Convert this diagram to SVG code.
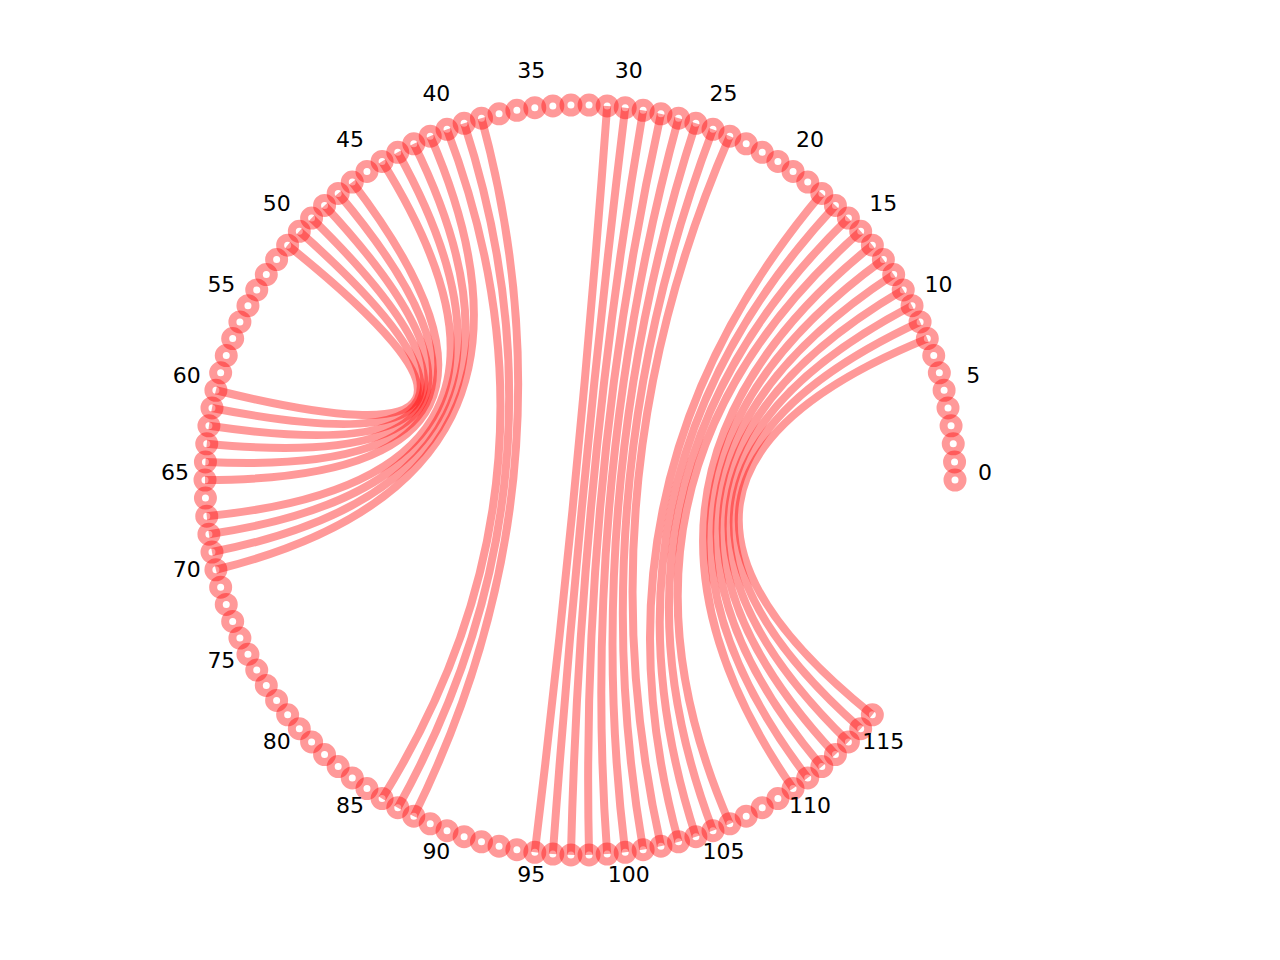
<svg xmlns="http://www.w3.org/2000/svg" width="1280" height="960" viewBox="0 0 1280 960">
<style>
.node circle{fill:none;stroke:#ff0000;stroke-opacity:0.4;stroke-width:8}
#edges path{fill:none;stroke:#ff0000;stroke-opacity:0.4;stroke-width:8}
.lbl{font-family:"DejaVu Sans",sans-serif;font-size:22px;text-anchor:middle;fill:#000}
</style>
<rect width="1280" height="960" fill="#fff"/>
<g id="edges">
<path d="M481.49 118.17Q580 480 413.80 816.16"/>
<path d="M464.12 123.35Q580 480 397.77 807.74"/>
<path d="M447.02 129.37Q580 480 382.11 798.53"/>
<path d="M430.23 136.20Q580 480 215.90 569.75"/>
<path d="M413.80 143.84Q580 480 211.99 552.05"/>
<path d="M397.77 152.26Q580 480 208.93 534.18"/>
<path d="M382.11 161.47Q580 480 206.75 516.19"/>
<path d="M352.27 182.07Q580 480 205 480"/>
<path d="M338.18 193.38Q580 480 205.44 461.88"/>
<path d="M324.57 205.44Q580 480 206.75 443.81"/>
<path d="M311.60 218.11Q580 480 208.93 425.82"/>
<path d="M299.31 231.33Q580 480 211.99 407.95"/>
<path d="M287.65 245.14Q580 480 215.90 390.25"/>
<path d="M607.17 105.99Q580 480 534.80 852.27"/>
<path d="M625.20 107.73Q580 480 552.83 854.01"/>
<path d="M643.14 110.35Q580 480 570.94 854.89"/>
<path d="M660.93 113.84Q580 480 589.06 854.89"/>
<path d="M678.51 118.17Q580 480 607.17 854.01"/>
<path d="M695.88 123.35Q580 480 625.20 852.27"/>
<path d="M712.98 129.37Q580 480 643.14 849.65"/>
<path d="M729.77 136.20Q580 480 660.93 846.16"/>
<path d="M821.82 193.38Q580 480 678.51 841.83"/>
<path d="M835.43 205.44Q580 480 695.88 836.65"/>
<path d="M848.40 218.11Q580 480 712.98 830.63"/>
<path d="M860.69 231.33Q580 480 729.77 823.80"/>
<path d="M872.35 245.14Q580 480 793.05 788.60"/>
<path d="M883.38 259.58Q580 480 807.73 777.93"/>
<path d="M893.70 274.52Q580 480 821.82 766.62"/>
<path d="M903.25 289.91Q580 480 835.43 754.56"/>
<path d="M912.05 305.73Q580 480 848.40 741.89"/>
<path d="M920.09 321.97Q580 480 860.69 728.67"/>
<path d="M927.32 338.58Q580 480 872.35 714.86"/>
</g>
<g id="nodes">
<g id="node-0" class="node"><circle cx="955" cy="480" r="7.5"/></g>
<g id="node-1" class="node"><circle cx="954.56" cy="461.88" r="7.5"/></g>
<g id="node-2" class="node"><circle cx="953.25" cy="443.81" r="7.5"/></g>
<g id="node-3" class="node"><circle cx="951.07" cy="425.82" r="7.5"/></g>
<g id="node-4" class="node"><circle cx="948.01" cy="407.95" r="7.5"/></g>
<g id="node-5" class="node"><circle cx="944.10" cy="390.25" r="7.5"/></g>
<g id="node-6" class="node"><circle cx="939.34" cy="372.77" r="7.5"/></g>
<g id="node-7" class="node"><circle cx="933.74" cy="355.53" r="7.5"/></g>
<g id="node-8" class="node"><circle cx="927.32" cy="338.58" r="7.5"/></g>
<g id="node-9" class="node"><circle cx="920.09" cy="321.97" r="7.5"/></g>
<g id="node-10" class="node"><circle cx="912.05" cy="305.73" r="7.5"/></g>
<g id="node-11" class="node"><circle cx="903.25" cy="289.91" r="7.5"/></g>
<g id="node-12" class="node"><circle cx="893.70" cy="274.52" r="7.5"/></g>
<g id="node-13" class="node"><circle cx="883.38" cy="259.58" r="7.5"/></g>
<g id="node-14" class="node"><circle cx="872.35" cy="245.14" r="7.5"/></g>
<g id="node-15" class="node"><circle cx="860.69" cy="231.33" r="7.5"/></g>
<g id="node-16" class="node"><circle cx="848.40" cy="218.11" r="7.5"/></g>
<g id="node-17" class="node"><circle cx="835.43" cy="205.44" r="7.5"/></g>
<g id="node-18" class="node"><circle cx="821.82" cy="193.38" r="7.5"/></g>
<g id="node-19" class="node"><circle cx="807.73" cy="182.07" r="7.5"/></g>
<g id="node-20" class="node"><circle cx="793.05" cy="171.40" r="7.5"/></g>
<g id="node-21" class="node"><circle cx="777.89" cy="161.47" r="7.5"/></g>
<g id="node-22" class="node"><circle cx="762.23" cy="152.26" r="7.5"/></g>
<g id="node-23" class="node"><circle cx="746.20" cy="143.84" r="7.5"/></g>
<g id="node-24" class="node"><circle cx="729.77" cy="136.20" r="7.5"/></g>
<g id="node-25" class="node"><circle cx="712.98" cy="129.37" r="7.5"/></g>
<g id="node-26" class="node"><circle cx="695.88" cy="123.35" r="7.5"/></g>
<g id="node-27" class="node"><circle cx="678.51" cy="118.17" r="7.5"/></g>
<g id="node-28" class="node"><circle cx="660.93" cy="113.84" r="7.5"/></g>
<g id="node-29" class="node"><circle cx="643.14" cy="110.35" r="7.5"/></g>
<g id="node-30" class="node"><circle cx="625.20" cy="107.73" r="7.5"/></g>
<g id="node-31" class="node"><circle cx="607.17" cy="105.99" r="7.5"/></g>
<g id="node-32" class="node"><circle cx="589.06" cy="105.11" r="7.5"/></g>
<g id="node-33" class="node"><circle cx="570.94" cy="105.11" r="7.5"/></g>
<g id="node-34" class="node"><circle cx="552.83" cy="105.99" r="7.5"/></g>
<g id="node-35" class="node"><circle cx="534.80" cy="107.73" r="7.5"/></g>
<g id="node-36" class="node"><circle cx="516.86" cy="110.35" r="7.5"/></g>
<g id="node-37" class="node"><circle cx="499.07" cy="113.84" r="7.5"/></g>
<g id="node-38" class="node"><circle cx="481.49" cy="118.17" r="7.5"/></g>
<g id="node-39" class="node"><circle cx="464.12" cy="123.35" r="7.5"/></g>
<g id="node-40" class="node"><circle cx="447.02" cy="129.37" r="7.5"/></g>
<g id="node-41" class="node"><circle cx="430.23" cy="136.20" r="7.5"/></g>
<g id="node-42" class="node"><circle cx="413.80" cy="143.84" r="7.5"/></g>
<g id="node-43" class="node"><circle cx="397.77" cy="152.26" r="7.5"/></g>
<g id="node-44" class="node"><circle cx="382.11" cy="161.47" r="7.5"/></g>
<g id="node-45" class="node"><circle cx="366.95" cy="171.40" r="7.5"/></g>
<g id="node-46" class="node"><circle cx="352.27" cy="182.07" r="7.5"/></g>
<g id="node-47" class="node"><circle cx="338.18" cy="193.38" r="7.5"/></g>
<g id="node-48" class="node"><circle cx="324.57" cy="205.44" r="7.5"/></g>
<g id="node-49" class="node"><circle cx="311.60" cy="218.11" r="7.5"/></g>
<g id="node-50" class="node"><circle cx="299.31" cy="231.33" r="7.5"/></g>
<g id="node-51" class="node"><circle cx="287.65" cy="245.14" r="7.5"/></g>
<g id="node-52" class="node"><circle cx="276.62" cy="259.58" r="7.5"/></g>
<g id="node-53" class="node"><circle cx="266.30" cy="274.52" r="7.5"/></g>
<g id="node-54" class="node"><circle cx="256.75" cy="289.91" r="7.5"/></g>
<g id="node-55" class="node"><circle cx="247.95" cy="305.73" r="7.5"/></g>
<g id="node-56" class="node"><circle cx="239.91" cy="321.97" r="7.5"/></g>
<g id="node-57" class="node"><circle cx="232.68" cy="338.58" r="7.5"/></g>
<g id="node-58" class="node"><circle cx="226.26" cy="355.53" r="7.5"/></g>
<g id="node-59" class="node"><circle cx="220.66" cy="372.77" r="7.5"/></g>
<g id="node-60" class="node"><circle cx="215.90" cy="390.25" r="7.5"/></g>
<g id="node-61" class="node"><circle cx="211.99" cy="407.95" r="7.5"/></g>
<g id="node-62" class="node"><circle cx="208.93" cy="425.82" r="7.5"/></g>
<g id="node-63" class="node"><circle cx="206.75" cy="443.81" r="7.5"/></g>
<g id="node-64" class="node"><circle cx="205.44" cy="461.88" r="7.5"/></g>
<g id="node-65" class="node"><circle cx="205" cy="480" r="7.5"/></g>
<g id="node-66" class="node"><circle cx="205.44" cy="498.12" r="7.5"/></g>
<g id="node-67" class="node"><circle cx="206.75" cy="516.19" r="7.5"/></g>
<g id="node-68" class="node"><circle cx="208.93" cy="534.18" r="7.5"/></g>
<g id="node-69" class="node"><circle cx="211.99" cy="552.05" r="7.5"/></g>
<g id="node-70" class="node"><circle cx="215.90" cy="569.75" r="7.5"/></g>
<g id="node-71" class="node"><circle cx="220.66" cy="587.23" r="7.5"/></g>
<g id="node-72" class="node"><circle cx="226.26" cy="604.47" r="7.5"/></g>
<g id="node-73" class="node"><circle cx="232.68" cy="621.42" r="7.5"/></g>
<g id="node-74" class="node"><circle cx="239.91" cy="638.03" r="7.5"/></g>
<g id="node-75" class="node"><circle cx="247.95" cy="654.27" r="7.5"/></g>
<g id="node-76" class="node"><circle cx="256.75" cy="670.09" r="7.5"/></g>
<g id="node-77" class="node"><circle cx="266.30" cy="685.48" r="7.5"/></g>
<g id="node-78" class="node"><circle cx="276.62" cy="700.42" r="7.5"/></g>
<g id="node-79" class="node"><circle cx="287.65" cy="714.86" r="7.5"/></g>
<g id="node-80" class="node"><circle cx="299.31" cy="728.67" r="7.5"/></g>
<g id="node-81" class="node"><circle cx="311.60" cy="741.89" r="7.5"/></g>
<g id="node-82" class="node"><circle cx="324.57" cy="754.56" r="7.5"/></g>
<g id="node-83" class="node"><circle cx="338.18" cy="766.62" r="7.5"/></g>
<g id="node-84" class="node"><circle cx="352.27" cy="777.93" r="7.5"/></g>
<g id="node-85" class="node"><circle cx="366.95" cy="788.60" r="7.5"/></g>
<g id="node-86" class="node"><circle cx="382.11" cy="798.53" r="7.5"/></g>
<g id="node-87" class="node"><circle cx="397.77" cy="807.74" r="7.5"/></g>
<g id="node-88" class="node"><circle cx="413.80" cy="816.16" r="7.5"/></g>
<g id="node-89" class="node"><circle cx="430.23" cy="823.80" r="7.5"/></g>
<g id="node-90" class="node"><circle cx="447.02" cy="830.63" r="7.5"/></g>
<g id="node-91" class="node"><circle cx="464.12" cy="836.65" r="7.5"/></g>
<g id="node-92" class="node"><circle cx="481.49" cy="841.83" r="7.5"/></g>
<g id="node-93" class="node"><circle cx="499.07" cy="846.16" r="7.5"/></g>
<g id="node-94" class="node"><circle cx="516.86" cy="849.65" r="7.5"/></g>
<g id="node-95" class="node"><circle cx="534.80" cy="852.27" r="7.5"/></g>
<g id="node-96" class="node"><circle cx="552.83" cy="854.01" r="7.5"/></g>
<g id="node-97" class="node"><circle cx="570.94" cy="854.89" r="7.5"/></g>
<g id="node-98" class="node"><circle cx="589.06" cy="854.89" r="7.5"/></g>
<g id="node-99" class="node"><circle cx="607.17" cy="854.01" r="7.5"/></g>
<g id="node-100" class="node"><circle cx="625.20" cy="852.27" r="7.5"/></g>
<g id="node-101" class="node"><circle cx="643.14" cy="849.65" r="7.5"/></g>
<g id="node-102" class="node"><circle cx="660.93" cy="846.16" r="7.5"/></g>
<g id="node-103" class="node"><circle cx="678.51" cy="841.83" r="7.5"/></g>
<g id="node-104" class="node"><circle cx="695.88" cy="836.65" r="7.5"/></g>
<g id="node-105" class="node"><circle cx="712.98" cy="830.63" r="7.5"/></g>
<g id="node-106" class="node"><circle cx="729.77" cy="823.80" r="7.5"/></g>
<g id="node-107" class="node"><circle cx="746.20" cy="816.16" r="7.5"/></g>
<g id="node-108" class="node"><circle cx="762.23" cy="807.74" r="7.5"/></g>
<g id="node-109" class="node"><circle cx="777.89" cy="798.53" r="7.5"/></g>
<g id="node-110" class="node"><circle cx="793.05" cy="788.60" r="7.5"/></g>
<g id="node-111" class="node"><circle cx="807.73" cy="777.93" r="7.5"/></g>
<g id="node-112" class="node"><circle cx="821.82" cy="766.62" r="7.5"/></g>
<g id="node-113" class="node"><circle cx="835.43" cy="754.56" r="7.5"/></g>
<g id="node-114" class="node"><circle cx="848.40" cy="741.89" r="7.5"/></g>
<g id="node-115" class="node"><circle cx="860.69" cy="728.67" r="7.5"/></g>
<g id="node-116" class="node"><circle cx="872.35" cy="714.86" r="7.5"/></g>
</g>
<g id="labels" class="lbl">
<text x="985" y="480">0</text>
<text x="973.23" y="383.08">5</text>
<text x="938.61" y="291.79">10</text>
<text x="883.15" y="211.44">15</text>
<text x="810.09" y="146.71">20</text>
<text x="723.61" y="101.32">25</text>
<text x="628.82" y="77.95">30</text>
<text x="531.18" y="77.95">35</text>
<text x="436.39" y="101.32">40</text>
<text x="349.91" y="146.71">45</text>
<text x="276.85" y="211.44">50</text>
<text x="221.39" y="291.79">55</text>
<text x="186.77" y="383.08">60</text>
<text x="175" y="480">65</text>
<text x="186.77" y="576.92">70</text>
<text x="221.39" y="668.21">75</text>
<text x="276.85" y="748.56">80</text>
<text x="349.91" y="813.29">85</text>
<text x="436.39" y="858.68">90</text>
<text x="531.18" y="882.05">95</text>
<text x="628.82" y="882.05">100</text>
<text x="723.61" y="858.68">105</text>
<text x="810.09" y="813.29">110</text>
<text x="883.15" y="748.56">115</text>
</g>
</svg>
